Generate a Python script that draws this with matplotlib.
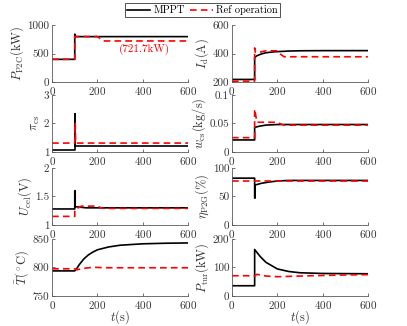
import matplotlib
matplotlib.use("Agg")
import matplotlib.pyplot as plt

plt.rcParams['font.family'] = 'serif'
plt.rcParams['font.serif'] = ['cmr10', 'DejaVu Serif']
plt.rcParams['mathtext.fontset'] = 'cm'
plt.rcParams['axes.formatter.use_mathtext'] = True

# ---- data (t in s) ----
p2c_t_mppt = [0, 100, 100, 103, 600]
p2c_mppt = [400, 400, 842, 798, 798]
p2c_t_ref = [0, 100, 100, 200, 210, 220, 230, 600]
p2c_ref = [400, 400, 800, 800, 770, 735, 722, 722]

id_t_mppt = [0, 100, 100, 110, 130, 150, 175, 200, 250, 300, 400, 600]
id_mppt = [219, 219, 373, 385, 398, 406, 411, 414, 418, 420, 421, 421]
id_t_ref = [0, 100, 100, 103, 110, 150, 200, 215, 230, 600]
id_ref = [207, 207, 440, 410, 406, 420, 420, 395, 378, 378]

pi_t_mppt = [0, 100, 100, 102, 102, 600]
pi_mppt = [1.07, 1.07, 2.34, 2.34, 1.2, 1.2]
pi_t_ref = [0, 100, 102, 104, 600]
pi_ref = [1.31, 1.31, 2.03, 1.31, 1.31]

w_t_mppt = [0, 100, 100, 120, 150, 200, 250, 600]
w_mppt = [0.021, 0.021, 0.043, 0.045, 0.047, 0.048, 0.048, 0.048]
w_t_ref = [0, 100, 100, 110, 200, 215, 230, 600]
w_ref = [0.025, 0.025, 0.075, 0.052, 0.052, 0.049, 0.047, 0.047]

u_t_mppt = [0, 100, 100, 102, 102, 150, 600]
u_mppt = [1.28, 1.28, 1.6, 1.6, 1.32, 1.30, 1.30]
u_t_ref = [0, 100, 100, 130, 200, 215, 230, 600]
u_ref = [1.15, 1.15, 1.27, 1.33, 1.33, 1.30, 1.29, 1.29]

eta_t_mppt = [0, 100, 100, 102, 102, 130, 160, 200, 250, 600]
eta_mppt = [82, 82, 47, 47, 70, 73, 75, 77, 78, 78]
eta_t_ref = [0, 600]
eta_ref = [77, 77]

T_t_mppt = [0, 100, 110, 120, 140, 160, 180, 200, 250, 300, 400, 500, 600]
T_mppt = [794, 794, 799, 805, 815, 822, 827, 831, 836, 839, 841.5, 842.5, 843]
T_t_ref = [0, 100, 110, 140, 180, 250, 600]
T_ref = [797.7, 797.7, 796, 798.5, 800.3, 799.5, 799.5]

tur_t_mppt = [0, 100, 100, 125, 150, 200, 250, 300, 400, 600]
tur_mppt = [36, 36, 163, 138, 118, 95, 86, 81.5, 79, 78]
tur_t_ref = [0, 100, 110, 150, 200, 300, 450, 600]
tur_ref = [71, 71, 76, 70, 67.6, 70, 73, 75]

ylabels = [r'$P_{\rm P2C}$(kW)', r'$I_{\rm d}$(A)', r'$\pi_{\rm cs}$',
           r'$w_{\rm cs}$(kg/s)', r'$U_{\rm cel}$(V)', r'$\eta_{\rm P2G}$(%)',
           r'$\bar{T}$($^\circ$C)', r'$P_{\rm tur}$(kW)']
yticks = [[0, 500, 1000], [200, 400, 600], [1, 2, 3], [0, 0.05, 0.1],
          [1, 1.5, 2], [0, 50, 100], [750, 800, 850], [0, 100, 200]]
series = [
    (p2c_t_mppt, p2c_mppt, p2c_t_ref, p2c_ref),
    (id_t_mppt, id_mppt, id_t_ref, id_ref),
    (pi_t_mppt, pi_mppt, pi_t_ref, pi_ref),
    (w_t_mppt, w_mppt, w_t_ref, w_ref),
    (u_t_mppt, u_mppt, u_t_ref, u_ref),
    (eta_t_mppt, eta_mppt, eta_t_ref, eta_ref),
    (T_t_mppt, T_mppt, T_t_ref, T_ref),
    (tur_t_mppt, tur_mppt, tur_t_ref, tur_ref),
]

fig = plt.figure(figsize=(4.07, 3.26), dpi=100)
lefts = [0.128, 0.570]
bottoms = [0.748, 0.534, 0.310, 0.092]
w, h = 0.334, 0.175
gray = '0.35'

for i, (tm, ym, tr, yr) in enumerate(series):
    ax = fig.add_axes([lefts[i % 2], bottoms[i // 2], w, h])
    l1, = ax.plot(tm, ym, color='black', lw=1.2, label='MPPT')
    l2, = ax.plot(tr, yr, color='red', lw=1.2, ls=(0, (4, 2.5)), label='Ref operation')
    ax.set_xlim(0, 600)
    ax.set_ylim(yticks[i][0], yticks[i][-1])
    ax.set_xticks([0, 200, 400, 600])
    ax.set_yticks(yticks[i])
    ax.set_yticklabels([f'{v:g}' for v in yticks[i]])
    ax.spines['top'].set_visible(False)
    ax.spines['right'].set_visible(False)
    for s in ['left', 'bottom']:
        ax.spines[s].set_color(gray)
        ax.spines[s].set_linewidth(0.6)
    ax.tick_params(direction='in', length=2.5, width=0.6, colors=gray,
                   labelsize=8, labelcolor='0.2', pad=2)
    ax.set_ylabel(ylabels[i], fontsize=9, labelpad=1, color='0.2')
    if i >= 6:
        ax.set_xlabel(r'$t$(s)', fontsize=9, labelpad=-2, color='0.2')
    if i == 0:
        ax.text(408, 580, '(721.7kW)', color='red', fontsize=8,
                ha='center', va='center')
        handles = [l1, l2]

leg = fig.legend(handles, ['MPPT', 'Ref operation'], loc='upper center',
                 bbox_to_anchor=(0.497, 0.99), ncol=2, fontsize=7.5,
                 frameon=True, fancybox=False, edgecolor='black',
                 handlelength=2.2, columnspacing=0.5, handletextpad=0.3,
                 borderpad=0.2, borderaxespad=0)
leg.get_frame().set_linewidth(0.6)

fig.savefig('out.png', dpi=100)
